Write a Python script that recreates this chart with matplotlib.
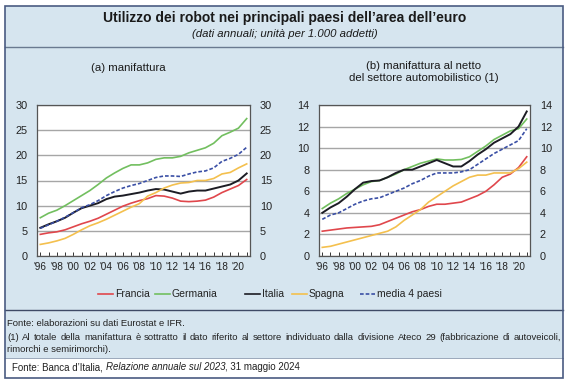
import matplotlib
matplotlib.use("Agg")
import matplotlib.pyplot as plt
from matplotlib.patches import Rectangle
from matplotlib.lines import Line2D
from matplotlib.ticker import MultipleLocator
import numpy as np

plt.rcParams['font.family'] = ['Liberation Sans', 'DejaVu Sans']

years = list(range(1996, 2022))
xtick_years = list(range(1996, 2021, 2))
xtick_labels = ["'96", "'98", "'00", "'02", "'04", "'06", "'08", "'10", "'12", "'14", "'16", "'18", "'20"]

# Panel (a) manifattura
a_francia = [4.3, 4.6, 4.8, 5.2, 5.8, 6.4, 6.9, 7.5, 8.3, 9.1, 9.9, 10.5, 11.0, 11.4, 12.0, 11.9, 11.5, 10.9, 10.8, 10.9, 11.1, 11.7, 12.6, 13.3, 14.0, 15.2]
a_germania = [7.6, 8.5, 9.1, 10.0, 11.0, 12.0, 13.0, 14.2, 15.5, 16.5, 17.4, 18.1, 18.1, 18.5, 19.2, 19.5, 19.5, 19.8, 20.5, 21.0, 21.5, 22.4, 23.9, 24.6, 25.4, 27.3]
a_italia = [5.6, 6.3, 6.9, 7.6, 8.6, 9.5, 10.0, 10.5, 11.3, 11.8, 12.0, 12.3, 12.6, 13.0, 13.3, 13.2, 12.8, 12.4, 12.8, 13.0, 13.0, 13.4, 13.8, 14.2, 15.0, 16.4]
a_spagna = [2.3, 2.6, 3.0, 3.5, 4.3, 5.2, 6.0, 6.6, 7.3, 8.1, 8.9, 9.7, 10.4, 11.9, 12.6, 13.5, 14.1, 14.5, 14.6, 15.0, 15.0, 15.4, 16.3, 16.6, 17.5, 18.3]
a_media = [5.5, 6.2, 6.9, 7.7, 8.6, 9.6, 10.2, 11.0, 12.0, 12.8, 13.5, 14.0, 14.4, 15.0, 15.6, 15.9, 15.9, 15.8, 16.3, 16.7, 16.9, 17.5, 18.8, 19.4, 20.2, 21.6]

# Panel (b) manifattura al netto del settore automobilistico
b_francia = [2.3, 2.4, 2.5, 2.6, 2.65, 2.7, 2.75, 2.9, 3.2, 3.5, 3.8, 4.1, 4.3, 4.6, 4.8, 4.8, 4.9, 5.0, 5.3, 5.6, 6.0, 6.6, 7.3, 7.6, 8.2, 9.2]
b_germania = [4.4, 4.9, 5.3, 5.8, 6.2, 6.6, 6.9, 7.0, 7.3, 7.6, 8.0, 8.3, 8.6, 8.8, 9.0, 8.9, 8.9, 8.95, 9.2, 9.7, 10.2, 10.8, 11.2, 11.6, 11.8, 12.7]
b_italia = [4.0, 4.5, 4.9, 5.5, 6.2, 6.8, 6.95, 7.0, 7.3, 7.7, 8.0, 8.0, 8.3, 8.6, 8.9, 8.6, 8.3, 8.3, 8.8, 9.4, 9.9, 10.5, 10.9, 11.3, 12.0, 13.4]
b_spagna = [0.8, 0.9, 1.1, 1.3, 1.5, 1.7, 1.9, 2.1, 2.3, 2.7, 3.3, 3.8, 4.3, 5.0, 5.5, 6.0, 6.5, 6.9, 7.3, 7.5, 7.5, 7.7, 7.7, 7.7, 8.1, 8.7]
b_media = [3.4, 3.8, 4.0, 4.4, 4.8, 5.1, 5.3, 5.4, 5.7, 6.0, 6.3, 6.7, 7.0, 7.4, 7.7, 7.7, 7.7, 7.8, 8.0, 8.5, 9.0, 9.5, 9.9, 10.3, 10.7, 11.8]

series_names = ["Francia", "Germania", "Italia", "Spagna", "media 4 paesi"]
colors = ["#e0474c", "#72bf5f", "#1c1c24", "#f4c04e", "#3a4fa5"]
styles = ["-", "-", "-", "-", (0, (2.2, 1.2))]
widths = [1.2, 1.2, 1.4, 1.2, 1.2]

W, H = 571, 382
fig = plt.figure(figsize=(W / 100, H / 100), dpi=100, facecolor="white")

def fx(x):
    return x / W

def fy(y):
    return 1 - y / H

bg = "#d6e5ef"
border = "#4a5b82"
# backgrounds
fig.patches.append(Rectangle((fx(5), fy(358)), fx(563) - fx(5), fy(6) - fy(358),
                             transform=fig.transFigure, facecolor=bg, edgecolor="none", zorder=-5))
fig.patches.append(Rectangle((fx(5), fy(378)), fx(563) - fx(5), fy(358) - fy(378),
                             transform=fig.transFigure, facecolor="white", edgecolor="none", zorder=-5))
# separators
fig.lines.append(Line2D([fx(5), fx(563)], [fy(47), fy(47)], transform=fig.transFigure, color="#6a7a90", lw=1.0))
fig.lines.append(Line2D([fx(5), fx(563)], [fy(310), fy(310)], transform=fig.transFigure, color="#3e4a66", lw=1.0))
fig.lines.append(Line2D([fx(5), fx(563)], [fy(358), fy(358)], transform=fig.transFigure, color="#8a9ab0", lw=0.6))
# outer border
fig.patches.append(Rectangle((fx(5), fy(378)), fx(563) - fx(5), fy(6) - fy(378),
                             transform=fig.transFigure, facecolor="none", edgecolor=border, lw=1.2, zorder=5))

# titles
fig.text(fx(285), fy(18), "Utilizzo dei robot nei principali paesi dell\u2019area dell\u2019euro",
         ha="center", va="center", fontsize=10, fontweight="bold", color="#1a1a1a")
fig.text(fx(285), fy(34), "(dati annuali; unità per 1.000 addetti)", ha="center", va="center",
         fontsize=8.2, style="italic", color="#1a1a1a")
fig.text(fx(128), fy(68), "(a) manifattura", ha="center", va="center", fontsize=8.2, color="#1a1a1a")
fig.text(fx(424), fy(72), "(b) manifattura al netto\ndel settore automobilistico (1)", ha="center",
         va="center", fontsize=8.2, color="#1a1a1a", linespacing=1.35)

def make_axes(left, right, top, bottom, data, ymax, ystep):
    ax = fig.add_axes([fx(left), fy(bottom), fx(right) - fx(left), fy(top) - fy(bottom)])
    ax.set_facecolor("white")
    for i, d in enumerate(data):
        ax.plot(years, d, color=colors[i], ls=styles[i], lw=widths[i], zorder=3 + (i == 4))
    ax.set_xlim(1995.6, 2021.4)
    ax.set_ylim(0, ymax)
    ax.yaxis.set_major_locator(MultipleLocator(ystep))
    ax.grid(axis="y", color="#a6a6a6", lw=1.0)
    ax.set_axisbelow(True)
    ax.set_xticks(xtick_years)
    ax.set_xticklabels(xtick_labels)
    ax.set_xticks(years, minor=True)
    ax.tick_params(axis="x", which="both", direction="in", length=3, width=0.7, color="#333333",
                   labelsize=7.2, pad=4, labelcolor="#222222")
    ax.tick_params(axis="y", which="both", length=0, labelsize=7.8, pad=7, labelcolor="#222222",
                   labelleft=True, labelright=True)
    for s in ax.spines.values():
        s.set_color("#555555")
        s.set_linewidth(0.9)
    return ax

make_axes(37, 250, 105, 256, [a_francia, a_germania, a_italia, a_spagna, a_media], 30, 5)
make_axes(319, 530, 105, 256, [b_francia, b_germania, b_italia, b_spagna, b_media], 14, 2)

# legend
leg_items = [(98, series_names[0]), (155, series_names[1]), (245, series_names[2]),
             (292, series_names[3]), (360, series_names[4])]
for i, (x0, name) in enumerate(leg_items):
    fig.lines.append(Line2D([fx(x0), fx(x0 + 15)], [fy(294), fy(294)], transform=fig.transFigure,
                            color=colors[i], ls=styles[i], lw=1.2))
    fig.text(fx(x0 + 17), fy(294), name, ha="left", va="center", fontsize=7.5, color="#222222")

# footnotes
fs_note = 6.8
fig.text(fx(7), fy(324), "Fonte: elaborazioni su dati Eurostat e IFR.", ha="left", va="center",
         fontsize=fs_note, color="#222222")

renderer = fig.canvas.get_renderer()

def justified(text, x0, x1, y, fs):
    words = text.split(" ")
    arts = [fig.text(0, fy(y), w, ha="left", va="center", fontsize=fs, color="#222222") for w in words]
    widths_px = [a.get_window_extent(renderer).width for a in arts]
    gap = (x1 - x0 - sum(widths_px)) / (len(words) - 1)
    x = x0
    for a, w in zip(arts, widths_px):
        a.set_x(fx(x))
        x += w + gap

justified("(1) Al totale della manifattura è sottratto il dato riferito al settore individuato dalla divisione Ateco 29 (fabbricazione di autoveicoli,",
          7, 561, 337, fs_note)
fig.text(fx(7), fy(349), "rimorchi e semirimorchi).", ha="left", va="center", fontsize=fs_note, color="#222222")

# source line with italic part
pieces = [("Fonte: Banca d\u2019Italia, ", "normal"), ("Relazione annuale sul 2023", "italic"),
          (", 31 maggio 2024", "normal")]
x = 12
for txt, st in pieces:
    t = fig.text(fx(x), fy(367), txt, ha="left", va="center", fontsize=7, style=st, color="#222222")
    x += t.get_window_extent(renderer).width

fig.savefig("out.png", dpi=100, facecolor="white")
